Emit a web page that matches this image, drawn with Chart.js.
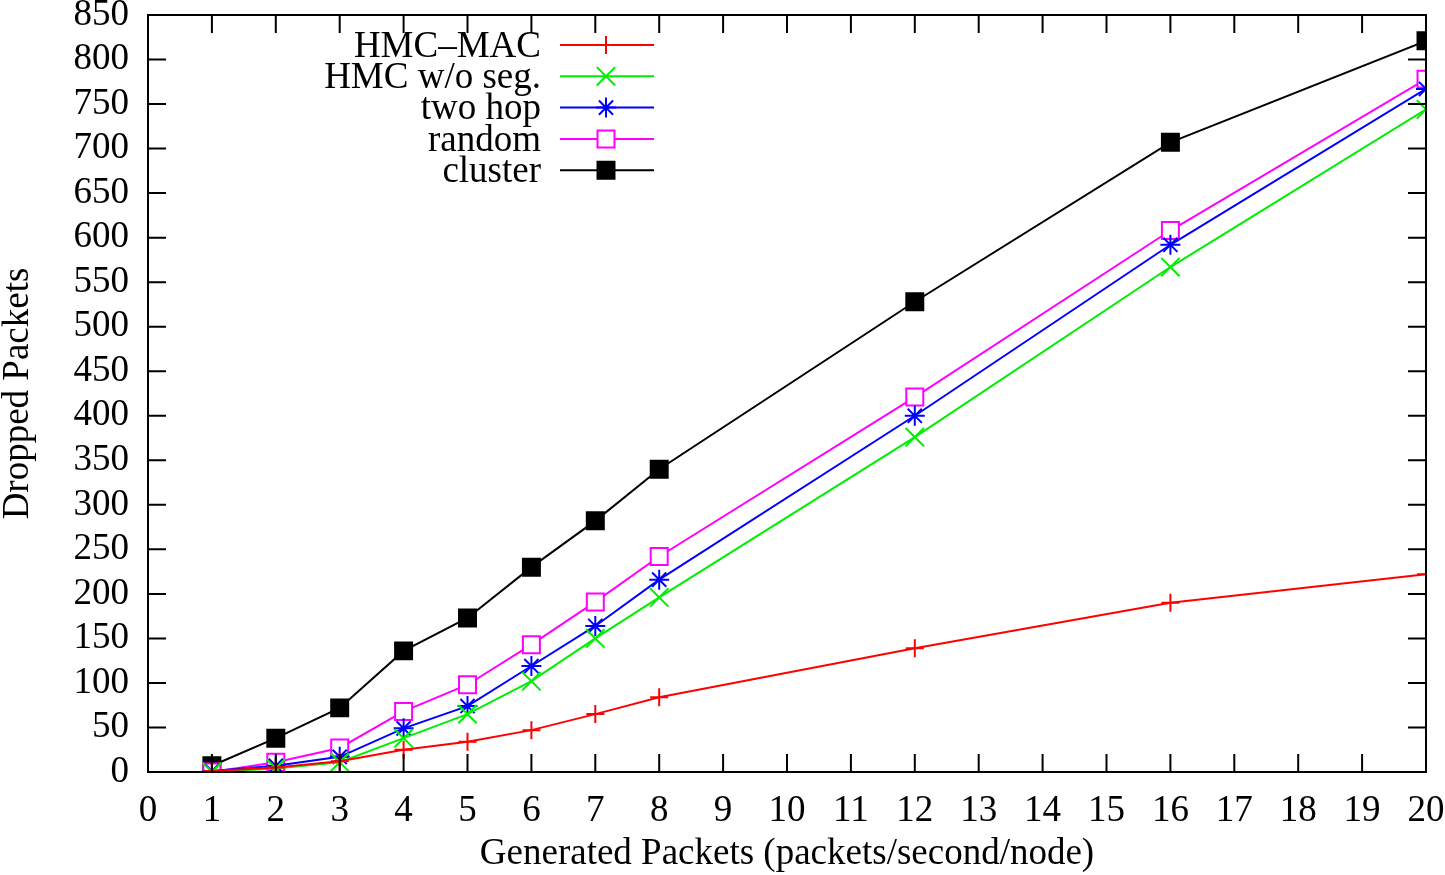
<!DOCTYPE html>
<html>
<head>
<meta charset="utf-8">
<script src="https://cdn.jsdelivr.net/npm/chart.js@4.4.1/dist/chart.umd.min.js"></script>
<style>
  html, body { margin: 0; padding: 0; background: #fff; }
  #wrap { width: 1445px; height: 875px; }
</style>
</head>
<body>
<div id="wrap"><canvas id="dropChart"></canvas></div>
<script>
// data
const rates = [1, 2, 3, 4, 5, 6, 7, 8, 12, 16, 20];
const hmcMac = [1, 5, 12, 25, 34, 47, 65, 84, 139, 190, 222];
const hmcNoSeg = [0, 4, 11, 38, 65, 102, 150, 196, 376, 567, 744];
const twoHop = [1, 7, 17, 49, 74, 119, 164, 216, 400, 592, 767];
const randomSel = [0, 11, 27, 68, 98, 143, 191, 242, 421, 608, 778];
const cluster = [7, 38, 72, 136, 173, 230, 282, 340, 528, 707, 821];

const seriesNames = ['HMC\u2013MAC', 'HMC w/o seg.', 'two hop', 'random', 'cluster'];
const xTicks = [0, 20, 1];     // min, max, step
const yTicks = [0, 850, 50];

const FONT = '"Liberation Serif", "DejaVu Serif", serif';
const FSIZE = 37;

function pts(vals) {
  return rates.map((r, i) => ({ x: r, y: vals[i] }));
}

function mkSet(label, vals, color, style, fill, rad) {
  return {
    label: label,
    data: pts(vals),
    borderColor: color,
    backgroundColor: fill,
    borderWidth: 2,
    pointStyle: style,
    pointRadius: rad,
    pointBorderColor: color,
    pointBackgroundColor: fill,
    pointBorderWidth: 2,
    tension: 0
  };
}

// frame + inward ticks on all four sides (gnuplot look)
const framePlugin = {
  id: 'frame',
  afterDraw(chart) {
    const ctx = chart.ctx, a = chart.chartArea;
    const xs = chart.scales.x, ys = chart.scales.y;
    ctx.save();
    ctx.strokeStyle = '#000';
    ctx.lineWidth = 2;
    ctx.strokeRect(a.left, a.top, a.right - a.left, a.bottom - a.top);
    ctx.beginPath();
    xs.ticks.forEach(t => {
      const px = xs.getPixelForValue(t.value);
      ctx.moveTo(px, a.bottom); ctx.lineTo(px, a.bottom - 18);
      ctx.moveTo(px, a.top); ctx.lineTo(px, a.top + 18);
    });
    ys.ticks.forEach(t => {
      const py = ys.getPixelForValue(t.value);
      ctx.moveTo(a.left, py); ctx.lineTo(a.left + 18, py);
      ctx.moveTo(a.right, py); ctx.lineTo(a.right - 18, py);
    });
    ctx.stroke();
    ctx.restore();
  }
};

// gnuplot style key: label right aligned, sample line with marker
const keyPlugin = {
  id: 'key',
  afterDraw(chart) {
    const ctx = chart.ctx;
    ctx.save();
    ctx.font = FSIZE + 'px ' + FONT;
    ctx.textAlign = 'right';
    ctx.textBaseline = 'middle';
    chart.data.datasets.forEach((ds, i) => {
      const y = 45 + i * 31.3;
      ctx.fillStyle = '#000';
      ctx.fillText(ds.label, 541, y + 2);
      ctx.strokeStyle = ds.borderColor;
      ctx.lineWidth = 2;
      ctx.beginPath();
      ctx.moveTo(560, y); ctx.lineTo(654, y);
      ctx.stroke();
      ctx.fillStyle = ds.pointBackgroundColor;
      Chart.helpers.drawPoint(ctx, {
        pointStyle: ds.pointStyle,
        radius: ds.pointRadius,
        borderWidth: 2,
        rotation: 0
      }, 606, y);
    });
    ctx.restore();
  }
};

const ctx = document.getElementById('dropChart').getContext('2d');
const dropChart = new Chart(ctx, {
  type: 'line',
  data: {
    datasets: [
      mkSet(seriesNames[0], hmcMac, '#ff0000', 'cross', '#ff0000', 9),
      mkSet(seriesNames[1], hmcNoSeg, '#00ee00', 'crossRot', '#00ee00', 13),
      mkSet(seriesNames[2], twoHop, '#0000ff', 'star', '#0000ff', 10),
      mkSet(seriesNames[3], randomSel, '#ff00ff', 'rect', '#ffffff', 12),
      mkSet(seriesNames[4], cluster, '#000000', 'rect', '#000000', 12)
    ]
  },
  options: {
    responsive: true,
    maintainAspectRatio: false,
    animation: false,
    layout: { padding: { top: 12, right: 19, left: 0, bottom: 0 } },
    plugins: {
      legend: { display: false },
      tooltip: { enabled: false }
    },
    scales: {
      x: {
        type: 'linear',
        min: xTicks[0],
        max: xTicks[1],
        ticks: { stepSize: xTicks[2], autoSkip: false, color: '#000', font: { family: FONT, size: FSIZE }, padding: 9, maxRotation: 0 },
        grid: { display: false },
        border: { display: false },
        title: { display: true, text: 'Generated Packets (packets/second/node)', color: '#000', font: { family: FONT, size: FSIZE, lineHeight: 1 }, padding: { top: 0, bottom: 2 } },
        afterFit(s) { s.height = 103; s.paddingLeft = 0; s.paddingRight = 0; }
      },
      y: {
        min: yTicks[0],
        max: yTicks[1],
        ticks: { stepSize: yTicks[2], autoSkip: false, color: '#000', font: { family: FONT, size: FSIZE }, padding: 11 },
        grid: { display: false },
        border: { display: false },
        title: { display: true, text: 'Dropped Packets', color: '#000', font: { family: FONT, size: FSIZE, lineHeight: 1 }, padding: { top: 0, bottom: 0 } },
        afterFit(s) { s.width = 148; s.paddingTop = 0; s.paddingBottom = 0; }
      }
    }
  },
  plugins: [framePlugin, keyPlugin]
});
</script>
</body>
</html>
